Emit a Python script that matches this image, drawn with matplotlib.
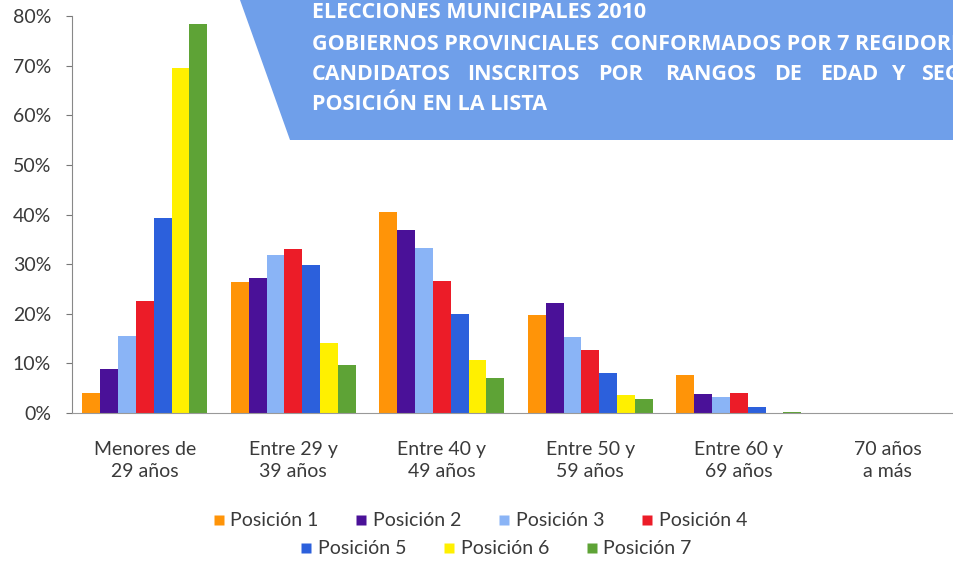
"""Elecciones municipales 2010 - candidatos por rango de edad y posición."""
import matplotlib
matplotlib.use('Agg')
import matplotlib.pyplot as plt
from matplotlib.patches import Polygon
from matplotlib.lines import Line2D
import numpy as np

plt.rcParams['font.family'] = ['Lato', 'DejaVu Sans']

# age ranges on the x axis
categories = ['Menores de\n29 años', 'Entre 29 y\n39 años', 'Entre 40 y\n49 años',
              'Entre 50 y\n59 años', 'Entre 60 y\n69 años', '70 años\na más']

series_names = ['Posición 1', 'Posición 2', 'Posición 3', 'Posición 4',
                'Posición 5', 'Posición 6', 'Posición 7']

# percentages, one list per position
pos1 = [4.0, 26.3, 40.6, 19.8, 7.7, 0.1]
pos2 = [8.8, 27.2, 36.8, 22.1, 3.8, 0.0]
pos3 = [15.5, 31.8, 33.2, 15.3, 3.2, 0.0]
pos4 = [22.6, 33.0, 26.5, 12.7, 4.0, 0.0]
pos5 = [39.2, 29.8, 20.0, 8.0, 1.2, 0.0]
pos6 = [69.6, 14.2, 10.7, 3.6, 0.0, 0.0]
pos7 = [78.4, 9.6, 7.1, 2.9, 0.3, 0.0]
series = [pos1, pos2, pos3, pos4, pos5, pos6, pos7]

yticks = [0, 10, 20, 30, 40, 50, 60, 70, 80]
ytick_labels = ['0%', '10%', '20%', '30%', '40%', '50%', '60%', '70%', '80%']

colors = ['#ff9408', '#4a1198', '#8ab4f6', '#ec1c28', '#2c60dc', '#fff000', '#5ea336']

title_lines = ['ELECCIONES MUNICIPALES 2010',
               'GOBIERNOS PROVINCIALES  CONFORMADOS POR 7 REGIDORES']
title_justified = ['CANDIDATOS', 'INSCRITOS', 'POR', 'RANGOS', 'DE', 'EDAD', 'Y', 'SEGÚN']
title_last = 'POSICIÓN EN LA LISTA'

W, H = 954, 563
fig = plt.figure(figsize=(W / 100, H / 100), dpi=100)
ax = fig.add_axes([72 / W, 1 - 413 / H, 906 / W, (413 - 16) / H])

x = np.arange(len(categories))
bw = 0.12
for i, (vals, c, name) in enumerate(zip(series, colors, series_names)):
    ax.bar(x + (i - 3) * bw, vals, width=bw, color=c, label=name, zorder=2)

ax.set_xlim(-0.49, 5.61)
ax.set_ylim(0, 80)
ax.set_yticks(yticks)
ax.set_yticklabels(ytick_labels, fontsize=14, color='#3a3a3a')
ax.set_xticks(x)
ax.set_xticklabels(categories, fontsize=14, color='#3a3a3a', linespacing=1.35)
ax.tick_params(axis='x', length=0, pad=20)
ax.tick_params(axis='y', length=4, width=0.8, color='#777777', pad=11)
for s in ['top', 'right']:
    ax.spines[s].set_visible(False)
ax.spines['left'].set_color('#888888')
ax.spines['bottom'].set_color('#999999')
ax.spines['left'].set_linewidth(0.8)
ax.spines['bottom'].set_linewidth(0.8)

# blue title banner
banner = Polygon([(240 / W, 1.0), (1.05, 1.0), (1.05, 1 - 140 / H),
                  (290 / W, 1 - 140 / H)], closed=True, transform=fig.transFigure,
                 facecolor='#6f9fea', edgecolor='none', zorder=5)
fig.patches.append(banner)

tfont = dict(family=['Open Sans', 'DejaVu Sans'], fontweight='bold', color='white',
             fontsize=15.5, va='center', ha='left', zorder=6)
fig.text(312 / W, 1 - 13 / H, title_lines[0], **tfont)
fig.text(312 / W, 1 - 45 / H, title_lines[1], **tfont)
word_x = [312, 467, 598, 665, 774, 820, 892, 921]
for wx, word in zip(word_x, title_justified):
    fig.text(wx / W, 1 - 75 / H, word, **tfont)
fig.text(312 / W, 1 - 104 / H, title_last, **tfont)

# legend in two centred rows
handles = [Line2D([], [], marker='s', linestyle='none', markersize=7,
                  markerfacecolor=c, markeredgecolor='none') for c in colors]
lfont = dict(frameon=False, fontsize=14, handletextpad=0.3, columnspacing=1.9,
             handlelength=0.6, borderpad=0, labelcolor='#3a3a3a')
fig.legend(handles[:4], series_names[:4], ncol=4, loc='center',
           bbox_to_anchor=(480 / W, 1 - 521 / H), **lfont)
fig.legend(handles[4:], series_names[4:], ncol=3, loc='center',
           bbox_to_anchor=(496 / W, 1 - 549 / H), **lfont)

fig.savefig('out.png', dpi=100)
